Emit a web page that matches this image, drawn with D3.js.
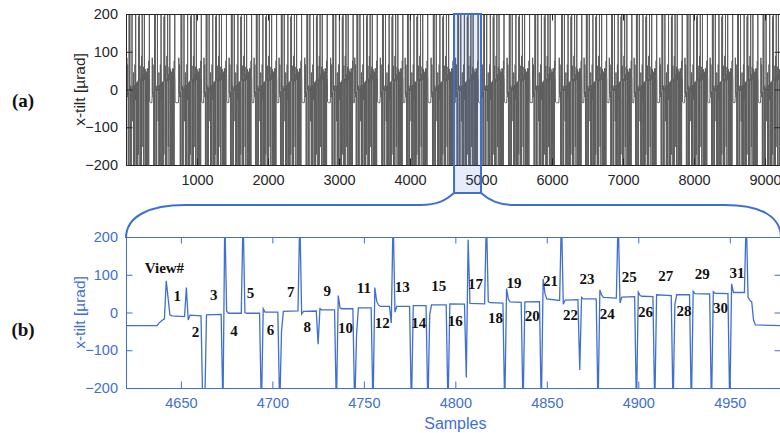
<!DOCTYPE html>
<html>
<head>
<meta charset="utf-8">
<script src="https://cdn.jsdelivr.net/npm/d3@7"></script>
<style>
  body { margin: 0; background: #fff; }
  .axis text { font-family: "Liberation Sans", Arial, sans-serif; font-size: 14.5px; }
</style>
</head>
<body>
<div class="chart-container"></div>
<script>
// Data
// zoomed scan (b): vertices of the tilt trace, sample index and value in µrad
// values beyond +-200 run off the axes and are clipped
const zoom_samples = [
  4620, 4637, 4638, 4639, 4640, 4641, 4642, 4644, 4645, 4652, 4653, 4654, 4655, 4661,
  4662, 4663, 4664, 4672, 4673, 4674, 4675, 4676, 4683, 4684, 4685, 4686, 4693, 4694,
  4695, 4696, 4703, 4704, 4705, 4706, 4714, 4715, 4716, 4717, 4724, 4725, 4726, 4727,
  4734, 4735, 4736, 4737, 4738, 4744, 4745, 4746, 4747, 4754, 4755, 4756, 4757, 4758,
  4759, 4764, 4765, 4766, 4767, 4768, 4775, 4776, 4777, 4784, 4785, 4786, 4787, 4795,
  4796, 4797, 4805, 4806, 4807, 4808, 4816, 4817, 4818, 4819, 4826, 4827, 4828, 4829,
  4830, 4836, 4837, 4838, 4846, 4847, 4848, 4849, 4850, 4857, 4858, 4859, 4860, 4867,
  4868, 4869, 4870, 4877, 4878, 4879, 4880, 4881, 4888, 4889, 4890, 4891, 4898, 4899,
  4900, 4901, 4902, 4908, 4909, 4910, 4918, 4919, 4920, 4921, 4928, 4929, 4930, 4931,
  4939, 4940, 4941, 4942, 4949, 4950, 4951, 4952, 4958, 4959, 4960, 4961, 4962, 4963,
  4964, 4978
];
const zoom_values = [
  -35, -35, -28, -24, -20, -17, 84, -6, -9, -11, 66, -20, -7, -9,
  -260, -260, -6, -5, -260, 260, 4, -2, -2, 260, 0, -2, -2, -260,
  10, 1, 1, -260, -50, 3, 4, 260, -4, 3, 4, -84, 10, 7,
  7, -260, 45, 12, 10, 10, -260, -60, 12, 12, -260, 66, 30, 20,
  16, 16, -28, 260, 1, 16, 16, -260, 18, 18, -260, -6, 20, 20,
  -260, 23, 22, -172, 193, 24, 23, 260, 29, 26, 25, -260, 63, 35,
  28, 27, -260, 28, 29, -260, 89, 50, 36, 32, 260, 22, 33, 34,
  -152, 40, 36, 36, -260, 60, 46, 40, 38, 260, 25, 41, 42, -260,
  54, 45, 43, 42, -260, 47, 45, -260, 22, 47, 47, -260, 56, 50,
  49, -260, 55, 51, 50, -260, 76, 53, 53, 260, 40, 32, 28, -20,
  -33, -35
];

// view numbers and where they are written (sample, µrad)
const view_ids = d3.range(1, 32);
const view_label_x = [
  4648, 4658, 4668, 4679, 4688, 4699, 4710, 4719, 4730, 4740,
  4750, 4760, 4771, 4780, 4791, 4800, 4811, 4822, 4832, 4842,
  4852, 4863, 4872, 4883, 4895, 4904, 4915, 4925, 4935, 4945, 4954
];
const view_label_y = [
  44, -52, 47, -49, 51, -46, 56, -39, 58, -40,
  65, -28, 67, -26, 72, -21, 77, -15, 80, -9,
  85, -6, 89, -2, 94, 3, 97, 5, 102, 12, 106
];

// full record (a): sample where each scan of 31 views begins
const scan_starts = [
  -10, 348, 722, 1076, 1430, 1782, 2134, 2495, 2860, 3200, 3560, 3910, 4275,
  4620, 4985, 5345, 5705, 6080, 6430, 6785, 7135, 7495, 7850, 8205, 8560, 8920
];

const full_x_ticks = [1000, 2000, 3000, 4000, 5000, 6000, 7000, 8000, 9000];
const zoom_x_ticks = [4650, 4700, 4750, 4800, 4850, 4900, 4950];
const tilt_ticks = [-200, -100, 0, 100, 200];

const dark = '#262626';
const blue = '#3f6fd1';

function zoom_points(){
  return zoom_samples.map((s, i) => ({sample: s, value: zoom_values[i]}));
}

// the full record is the same scan recorded again at every scan start
function full_points(){
  const scan = zoom_points();
  const scan_origin = zoom_samples[0];
  const points = [];
  scan_starts.forEach((start, i) => {
    const next = i < scan_starts.length - 1 ? scan_starts[i + 1] : Infinity;
    scan.forEach(d => {
      const s = start + (d.sample - scan_origin);
      if (s < next) points.push({sample: s, value: d.value});
    });
  });
  return points;
}

function draw_frame(svg, x_scale, y_scale, x_ticks, color){
  const [x0, x1] = x_scale.range();
  const [y1, y0] = y_scale.range();
  const tick = 6.5;
  const plain = d3.format('d');

  const bottom = svg.append('g')
      .attr('class', 'axis')
      .attr('transform', `translate(0, ${y1})`)
      .call(d3.axisBottom(x_scale).tickValues(x_ticks).tickFormat(plain)
            .tickSizeInner(-tick).tickSizeOuter(0).tickPadding(10));
  const top = svg.append('g')
      .attr('class', 'axis')
      .attr('transform', `translate(0, ${y0})`)
      .call(d3.axisTop(x_scale).tickValues(x_ticks).tickSizeInner(-tick).tickSizeOuter(0).tickFormat(''));
  const left = svg.append('g')
      .attr('class', 'axis')
      .attr('transform', `translate(${x0}, 0)`)
      .call(d3.axisLeft(y_scale).tickValues(tilt_ticks).tickFormat(plain)
            .tickSizeInner(-tick).tickSizeOuter(0).tickPadding(8));
  const right = svg.append('g')
      .attr('class', 'axis')
      .attr('transform', `translate(${x1}, 0)`)
      .call(d3.axisRight(y_scale).tickValues(tilt_ticks).tickSizeInner(-tick).tickSizeOuter(0).tickFormat(''));

  [bottom, top, left, right].forEach(a => {
    a.selectAll('path, line').attr('stroke', color).attr('stroke-width', 1);
    a.selectAll('text').attr('fill', color);
  });
}

function setup_canvas(){
  const svg_width = 780;
  const svg_height = 433;

  const svg = d3.select('.chart-container')
      .append('svg')
      .attr('width', svg_width)
      .attr('height', svg_height);

  // scales for the two panels
  const x_full = d3.scaleLinear().domain([0, 9225]).range([126, 781]);
  const y_full = d3.scaleLinear().domain([-200, 200]).range([165, 14]);
  const x_zoom = d3.scaleLinear().domain([4620, 4978]).range([126, 781]);
  const y_zoom = d3.scaleLinear().domain([-200, 200]).range([388, 237]);

  const defs = svg.append('defs');
  defs.append('clipPath').attr('id', 'clip-full')
      .append('rect').attr('x', 126).attr('y', 14).attr('width', 655).attr('height', 151);
  defs.append('clipPath').attr('id', 'clip-zoom')
      .append('rect').attr('x', 126).attr('y', 237).attr('width', 655).attr('height', 151);

  // (a) full record
  const full_line = d3.line().x(d => x_full(d.sample)).y(d => y_full(d.value));
  svg.append('path')
      .datum(full_points())
      .attr('clip-path', 'url(#clip-full)')
      .attr('d', full_line)
      .attr('fill', 'none')
      .attr('stroke', '#5e5e5e')
      .attr('stroke-width', 1);

  draw_frame(svg, x_full, y_full, full_x_ticks, dark);

  // highlight box of the zoomed samples, reaching below the axis
  const bx0 = x_full(x_zoom.domain()[0]);
  const bx1 = x_full(5000);
  svg.append('rect')
      .attr('x', bx0)
      .attr('y', 14)
      .attr('width', bx1 - bx0)
      .attr('height', 193 - 14)
      .attr('fill', 'rgba(63, 111, 209, 0.13)')
      .attr('stroke', blue)
      .attr('stroke-width', 2);

  // brace joining the box to panel (b)
  const zx0 = x_zoom.range()[0];
  const zx1 = x_zoom.range()[1];
  const brace = d3.path();
  brace.moveTo(zx0, 238);
  brace.bezierCurveTo(zx0, 216, 150, 205, 185, 205);
  brace.lineTo(420, 205);
  brace.bezierCurveTo(438, 205, 446, 200, bx0, 193);
  brace.moveTo(bx1, 193);
  brace.bezierCurveTo(489, 200, 498, 205, 515, 205);
  brace.lineTo(725, 205);
  brace.bezierCurveTo(760, 205, zx1, 216, zx1, 238);
  svg.append('path')
      .attr('d', brace.toString())
      .attr('fill', 'none')
      .attr('stroke', blue)
      .attr('stroke-width', 2);

  // (b) zoomed scan
  const zoom_line = d3.line().x(d => x_zoom(d.sample)).y(d => y_zoom(d.value));
  svg.append('path')
      .datum(zoom_points())
      .attr('clip-path', 'url(#clip-zoom)')
      .attr('d', zoom_line)
      .attr('fill', 'none')
      .attr('stroke', blue)
      .attr('stroke-width', 1.3);

  draw_frame(svg, x_zoom, y_zoom, zoom_x_ticks, blue);

  // view numbers
  const serif = '"Liberation Serif", "DejaVu Serif", serif';
  svg.append('g')
      .selectAll('text')
      .data(view_ids)
      .join('text')
      .attr('x', (d, i) => x_zoom(view_label_x[i]))
      .attr('y', (d, i) => y_zoom(view_label_y[i]))
      .attr('dy', '0.35em')
      .attr('text-anchor', 'middle')
      .style('font-family', serif)
      .style('font-weight', 'bold')
      .style('font-size', '15px')
      .style('fill', '#111')
      .text(d => d);
  svg.append('text')
      .attr('x', x_zoom(4641))
      .attr('y', y_zoom(118))
      .attr('dy', '0.35em')
      .attr('text-anchor', 'middle')
      .style('font-family', serif)
      .style('font-weight', 'bold')
      .style('font-size', '15px')
      .style('fill', '#111')
      .text('View#');

  // axis titles
  const sans = '"Liberation Sans", Arial, sans-serif';
  [[y_full, dark], [y_zoom, blue]].forEach(([ys, color]) => {
    svg.append('text')
        .attr('transform', `translate(80, ${ys(0)}) rotate(-90)`)
        .attr('dy', '0.35em')
        .attr('text-anchor', 'middle')
        .style('font-family', sans)
        .style('font-size', '15.5px')
        .style('fill', color)
        .text('x-tilt [µrad]');
  });
  svg.append('text')
      .attr('x', x_zoom(4800))
      .attr('y', 429)
      .attr('text-anchor', 'middle')
      .style('font-family', sans)
      .style('font-size', '16px')
      .style('fill', blue)
      .text('Samples');

  // panel letters
  [['(a)', 100], ['(b)', 329]].forEach(([label, y]) => {
    svg.append('text')
        .attr('x', 23)
        .attr('y', y)
        .attr('dy', '0.35em')
        .attr('text-anchor', 'middle')
        .style('font-family', serif)
        .style('font-weight', 'bold')
        .style('font-size', '19px')
        .style('fill', '#111')
        .text(label);
  });
}

setup_canvas();
</script>
</body>
</html>
